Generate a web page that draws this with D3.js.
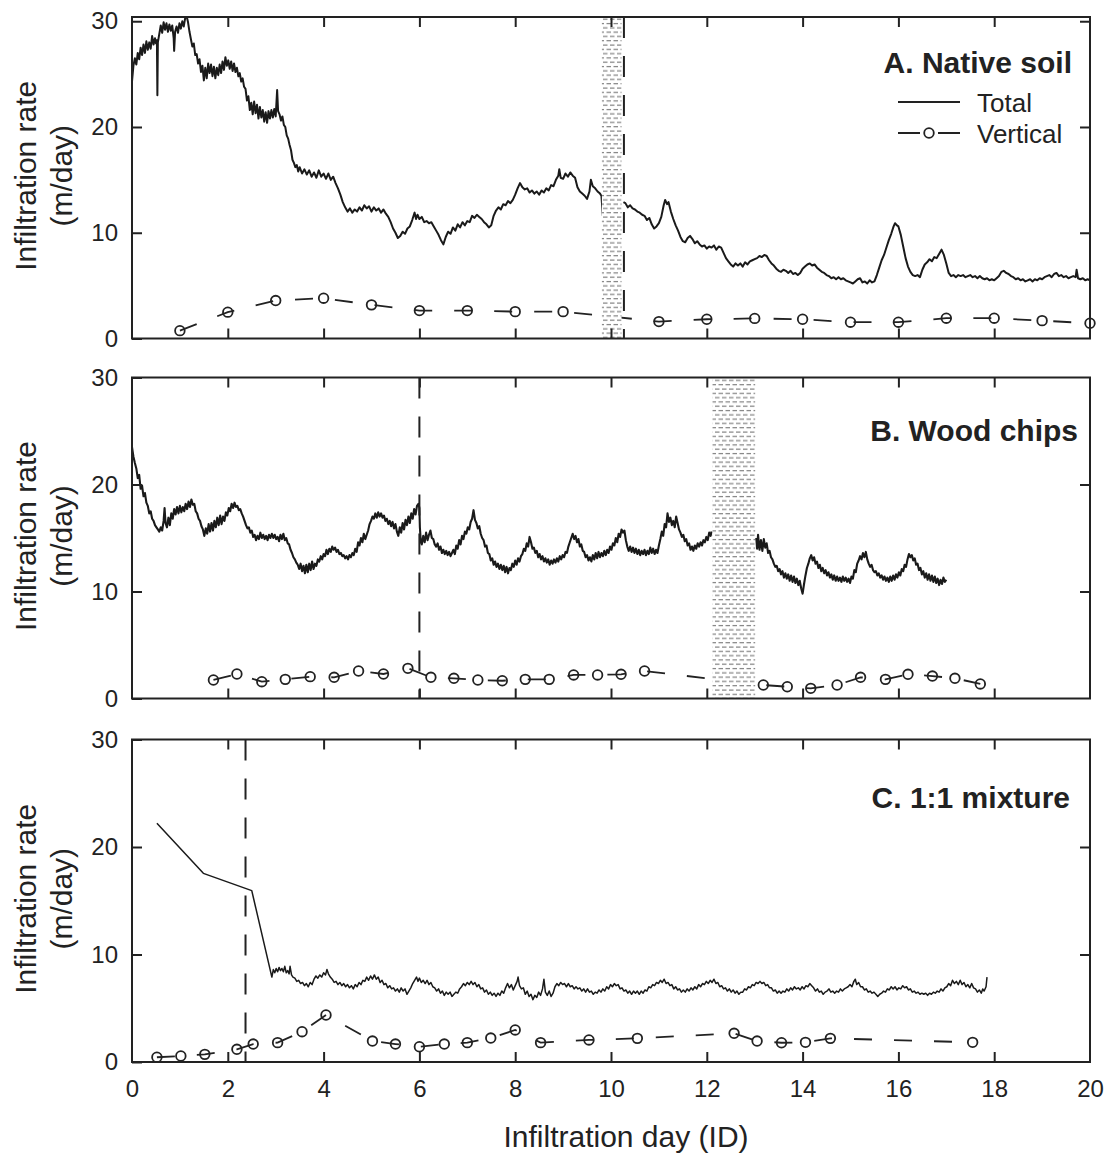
<!DOCTYPE html>
<html>
<head>
<meta charset="utf-8">
<script src="https://cdn.jsdelivr.net/npm/d3@7"></script>
<style>
  body { margin: 0; background: #fff; }
  svg { display: block; }
  text { font-family: "Liberation Sans", Arial, Helvetica, sans-serif; fill: #222; }
</style>
</head>
<body>
<div id="chart"></div>
<script>
// ── Data ─────────────────────────────────────────────────────────────────────

const xTicks = [0, 2, 4, 6, 8, 10, 12, 14, 16, 18, 20];
const yTicks = [0, 10, 20, 30];
const panelTitles = ["A. Native soil", "B. Wood chips", "C. 1:1 mixture"];
const shadedDays = [[9.81, 10.22], [12.12, 13.01], null];
const dashedDays = [10.27, 6.0, 2.37];
const legendLabels = ["Total", "Vertical"];

// Total infiltration rate, [day, m/day]; null = gap in record
const totalA = [[0,24.3],[0.03,25.8],[0.06,26.5],[0.09,25.9],[0.12,27.0],[0.15,26.4],[0.18,27.5],[0.21,26.8],[0.24,27.8],[0.27,27.0],[0.3,28.1],[0.33,27.3],[0.36,28.0],[0.39,27.4],[0.42,28.6],[0.45,27.8],[0.48,28.4],[0.5,27.9],[0.52,28.2],[0.53,23.0],[0.54,28.0],[0.57,28.8],[0.6,29.6],[0.63,28.9],[0.66,29.9],[0.69,29.2],[0.72,29.8],[0.75,29.0],[0.78,29.7],[0.81,29.1],[0.84,29.6],[0.87,28.4],[0.88,27.2],[0.9,29.0],[0.93,29.5],[0.96,28.9],[0.99,29.8],[1.02,29.3],[1.05,30.0],[1.08,29.5],[1.11,30.3],[1.14,30.5],[1.17,29.9],[1.2,29.0],[1.23,28.3],[1.26,27.6],[1.29,27.9],[1.32,26.8],[1.35,26.9],[1.38,26.0],[1.41,26.4],[1.44,25.2],[1.47,25.8],[1.5,24.4],[1.53,25.6],[1.56,24.6],[1.59,26.0],[1.62,25.1],[1.65,25.9],[1.68,24.8],[1.71,25.7],[1.74,24.6],[1.77,25.6],[1.8,24.9],[1.83,25.9],[1.86,25.1],[1.89,26.2],[1.92,25.4],[1.95,26.6],[1.98,25.8],[2.01,26.3],[2.04,25.5],[2.07,26.2],[2.1,25.3],[2.13,26.0],[2.16,25.2],[2.19,25.6],[2.22,24.8],[2.25,25.1],[2.28,24.3],[2.31,24.6],[2.34,23.8],[2.37,23.6],[2.4,22.5],[2.43,22.9],[2.46,21.6],[2.49,22.3],[2.52,21.2],[2.55,22.4],[2.58,21.3],[2.61,22.1],[2.64,20.8],[2.67,21.9],[2.7,20.9],[2.73,21.6],[2.76,20.5],[2.79,21.4],[2.82,20.4],[2.85,21.5],[2.88,20.8],[2.91,21.6],[2.94,20.9],[2.97,21.7],[3.0,21.0],[3.03,23.5],[3.05,21.5],[3.08,21.2],[3.11,20.6],[3.14,21.0],[3.17,20.2],[3.2,20.0],[3.23,19.2],[3.26,18.9],[3.29,18.3],[3.32,17.8],[3.35,16.9],[3.38,16.6],[3.41,16.2],[3.44,16.4],[3.47,15.8],[3.5,16.2],[3.55,15.6],[3.6,16.0],[3.65,15.5],[3.7,15.9],[3.75,15.3],[3.8,15.7],[3.85,15.2],[3.9,15.9],[3.95,15.3],[4.0,15.6],[4.05,15.1],[4.1,15.6],[4.15,15.0],[4.2,15.3],[4.25,14.7],[4.3,14.2],[4.35,13.6],[4.4,12.9],[4.45,12.4],[4.5,12.0],[4.55,12.3],[4.6,11.9],[4.65,12.2],[4.7,12.0],[4.75,12.4],[4.8,12.1],[4.85,12.6],[4.9,12.3],[4.95,12.5],[5.0,12.0],[5.05,12.4],[5.1,12.1],[5.15,12.3],[5.2,11.9],[5.25,12.2],[5.3,11.8],[5.35,11.5],[5.4,11.0],[5.45,10.4],[5.5,10.0],[5.55,9.5],[5.6,9.7],[5.65,10.1],[5.7,9.9],[5.75,10.4],[5.8,10.6],[5.85,11.2],[5.9,11.9],[5.93,11.3],[5.96,11.7],[6.0,11.3],[6.05,11.5],[6.1,11.0],[6.15,11.1],[6.2,10.9],[6.25,11.0],[6.3,10.6],[6.35,10.2],[6.4,9.8],[6.45,9.3],[6.5,8.9],[6.55,9.6],[6.6,10.1],[6.65,9.9],[6.7,10.5],[6.75,10.2],[6.8,10.8],[6.85,10.5],[6.9,11.0],[6.95,10.7],[7.0,11.1],[7.05,11.0],[7.1,11.6],[7.15,11.4],[7.2,11.7],[7.25,11.5],[7.3,11.3],[7.35,11.0],[7.4,10.8],[7.45,10.5],[7.5,10.7],[7.55,11.6],[7.6,12.1],[7.65,12.4],[7.7,12.2],[7.75,12.7],[7.8,12.6],[7.85,13.0],[7.9,12.8],[7.95,13.1],[8.0,13.6],[8.05,14.2],[8.1,14.7],[8.15,14.3],[8.2,14.1],[8.25,14.2],[8.3,13.8],[8.35,14.0],[8.4,13.7],[8.45,13.9],[8.5,13.6],[8.55,14.0],[8.6,13.8],[8.65,14.2],[8.7,14.0],[8.75,14.5],[8.8,14.4],[8.85,15.0],[8.9,15.4],[8.92,16.0],[8.95,15.2],[9.0,15.1],[9.05,15.6],[9.1,15.3],[9.15,15.7],[9.2,15.4],[9.25,15.2],[9.3,14.3],[9.35,13.9],[9.4,13.7],[9.45,13.5],[9.5,13.2],[9.55,13.9],[9.58,15.0],[9.62,14.4],[9.67,14.2],[9.72,13.9],[9.77,13.7],[9.8,13.5],[9.83,11.6],null,
  [10.26,12.9],[10.3,12.8],[10.35,12.4],[10.4,12.6],[10.45,12.3],[10.5,12.2],[10.55,12.0],[10.6,11.9],[10.65,11.7],[10.7,11.6],[10.75,11.2],[10.8,11.4],[10.85,10.8],[10.9,10.4],[10.95,10.6],[11.0,10.9],[11.05,11.5],[11.1,12.6],[11.13,13.1],[11.17,12.7],[11.2,12.9],[11.25,12.0],[11.3,11.3],[11.35,10.7],[11.4,10.2],[11.45,9.6],[11.5,9.2],[11.55,9.1],[11.6,9.5],[11.65,9.7],[11.7,9.4],[11.75,9.0],[11.8,9.2],[11.85,8.9],[11.9,8.7],[11.95,8.8],[12.0,8.5],[12.05,8.7],[12.1,8.6],[12.15,8.8],[12.2,8.4],[12.25,8.7],[12.3,8.6],[12.35,8.1],[12.4,7.6],[12.45,7.3],[12.5,7.0],[12.55,6.8],[12.6,7.1],[12.65,6.9],[12.7,7.1],[12.75,6.8],[12.8,7.2],[12.85,7.0],[12.9,7.3],[12.95,7.4],[13.0,7.5],[13.05,7.6],[13.1,7.8],[13.15,7.7],[13.2,7.9],[13.25,7.8],[13.3,7.4],[13.35,7.1],[13.4,6.9],[13.45,6.6],[13.5,6.4],[13.55,6.3],[13.6,6.5],[13.65,6.4],[13.7,6.2],[13.75,6.4],[13.8,6.1],[13.85,6.2],[13.9,6.0],[13.95,6.2],[14.0,6.6],[14.05,6.8],[14.1,7.0],[14.15,7.1],[14.2,6.9],[14.25,7.0],[14.3,6.7],[14.35,6.5],[14.4,6.3],[14.45,6.2],[14.5,6.0],[14.55,5.9],[14.6,5.7],[14.65,5.8],[14.7,5.6],[14.75,5.8],[14.8,5.6],[14.85,5.7],[14.9,5.5],[14.95,5.4],[15.0,5.3],[15.05,5.2],[15.1,5.4],[15.15,5.6],[15.2,5.7],[15.25,5.3],[15.3,5.4],[15.35,5.2],[15.4,5.5],[15.45,5.3],[15.5,5.4],[15.55,6.0],[15.6,6.7],[15.65,7.4],[15.7,7.9],[15.75,8.6],[15.8,9.3],[15.85,9.9],[15.9,10.6],[15.93,10.9],[15.97,10.7],[16.0,10.6],[16.05,9.8],[16.1,8.7],[16.15,7.6],[16.2,6.8],[16.25,6.3],[16.3,6.0],[16.35,5.9],[16.4,6.0],[16.45,5.8],[16.5,6.5],[16.55,7.0],[16.6,7.2],[16.65,7.5],[16.7,7.3],[16.75,7.7],[16.8,7.6],[16.85,8.0],[16.9,8.4],[16.95,7.9],[17.0,7.1],[17.05,6.2],[17.1,5.9],[17.15,6.0],[17.2,5.8],[17.25,6.0],[17.3,5.9],[17.35,6.0],[17.4,5.8],[17.45,5.9],[17.5,6.0],[17.55,5.8],[17.6,5.9],[17.65,5.7],[17.7,5.9],[17.75,5.7],[17.8,5.6],[17.85,5.7],[17.9,5.5],[17.95,5.6],[18.0,5.5],[18.05,5.7],[18.1,5.9],[18.15,6.3],[18.2,6.4],[18.25,6.2],[18.3,6.1],[18.35,5.9],[18.4,5.8],[18.45,5.6],[18.5,5.7],[18.55,5.5],[18.6,5.6],[18.65,5.4],[18.7,5.5],[18.75,5.6],[18.8,5.4],[18.85,5.6],[18.9,5.5],[18.95,5.7],[19.0,5.6],[19.05,5.8],[19.1,5.9],[19.15,6.0],[19.2,5.8],[19.25,6.1],[19.3,6.2],[19.35,5.9],[19.4,6.0],[19.45,5.8],[19.5,5.9],[19.55,5.7],[19.6,5.8],[19.65,5.9],[19.7,5.8],[19.72,6.5],[19.75,5.7],[19.8,5.6],[19.85,5.7],[19.9,5.5],[19.95,5.6],[20.0,5.5]];

const totalB = [[0,23.5],[0.03,22.6],[0.06,22.0],[0.09,21.5],[0.12,20.6],[0.15,20.9],[0.18,19.6],[0.21,19.9],[0.24,18.9],[0.27,19.2],[0.3,18.3],[0.33,18.0],[0.36,17.3],[0.39,17.5],[0.42,16.8],[0.45,16.6],[0.48,16.2],[0.51,16.0],[0.54,15.8],[0.57,15.6],[0.6,16.0],[0.63,15.7],[0.66,16.6],[0.68,17.8],[0.7,16.4],[0.73,16.0],[0.76,16.9],[0.79,16.2],[0.82,17.3],[0.85,16.8],[0.88,17.7],[0.91,17.2],[0.94,17.9],[0.97,17.3],[1.0,18.0],[1.03,17.4],[1.06,17.9],[1.09,17.5],[1.12,18.2],[1.15,17.7],[1.18,18.4],[1.21,17.9],[1.24,18.6],[1.27,18.1],[1.3,18.2],[1.33,17.5],[1.36,17.3],[1.39,16.8],[1.42,16.6],[1.45,16.1],[1.48,15.8],[1.51,15.2],[1.54,15.9],[1.57,15.4],[1.6,16.3],[1.63,15.6],[1.66,16.4],[1.69,15.7],[1.72,16.6],[1.75,16.0],[1.78,16.9],[1.81,16.2],[1.84,17.1],[1.87,16.3],[1.9,17.0],[1.93,16.6],[1.96,17.4],[1.99,17.1],[2.02,17.8],[2.05,17.5],[2.08,18.2],[2.11,17.8],[2.14,18.3],[2.17,17.9],[2.2,18.0],[2.23,17.6],[2.26,17.7],[2.29,17.3],[2.32,17.0],[2.35,16.6],[2.38,16.2],[2.41,15.9],[2.44,16.0],[2.47,15.5],[2.5,15.7],[2.53,15.1],[2.56,15.3],[2.59,14.8],[2.62,15.2],[2.65,14.9],[2.68,15.5],[2.71,15.0],[2.74,15.3],[2.77,14.9],[2.8,15.2],[2.83,14.8],[2.86,15.3],[2.89,15.0],[2.92,15.4],[2.95,15.0],[2.98,15.3],[3.01,14.9],[3.04,15.1],[3.07,14.7],[3.1,15.3],[3.13,14.9],[3.16,15.4],[3.19,14.8],[3.22,15.0],[3.25,14.5],[3.28,14.4],[3.31,13.9],[3.34,13.6],[3.37,13.2],[3.4,13.0],[3.43,12.7],[3.46,12.5],[3.49,12.1],[3.52,12.6],[3.55,11.9],[3.58,12.4],[3.61,11.7],[3.64,12.5],[3.67,11.8],[3.7,12.6],[3.73,12.0],[3.76,12.8],[3.79,12.1],[3.82,12.6],[3.85,12.4],[3.88,13.0],[3.91,12.8],[3.94,13.3],[3.97,13.0],[4.0,13.5],[4.03,13.3],[4.06,13.9],[4.09,13.5],[4.12,14.0],[4.15,13.7],[4.18,14.2],[4.21,13.9],[4.24,14.1],[4.27,13.7],[4.3,13.9],[4.33,13.5],[4.36,13.6],[4.39,13.3],[4.42,13.4],[4.45,13.1],[4.48,13.3],[4.51,13.0],[4.54,13.4],[4.57,13.2],[4.6,13.6],[4.63,13.4],[4.66,14.0],[4.69,13.7],[4.72,14.6],[4.75,14.3],[4.78,15.0],[4.81,14.6],[4.84,15.4],[4.87,14.9],[4.9,15.3],[4.93,15.7],[4.96,16.3],[4.99,16.6],[5.02,17.0],[5.05,16.8],[5.08,17.3],[5.11,16.9],[5.14,17.4],[5.17,17.0],[5.2,17.3],[5.23,16.9],[5.26,17.1],[5.29,16.6],[5.32,16.8],[5.35,16.3],[5.38,16.6],[5.41,16.1],[5.44,16.5],[5.47,15.9],[5.5,16.3],[5.53,15.6],[5.56,15.2],[5.59,16.0],[5.62,15.5],[5.65,16.4],[5.68,15.8],[5.71,16.7],[5.74,16.2],[5.77,17.0],[5.8,16.4],[5.83,17.3],[5.86,16.8],[5.89,17.7],[5.92,17.2],[5.95,18.0],[5.98,18.2],[6.0,17.8],[6.01,16.0],[6.03,14.6],[6.05,14.4],[6.08,15.2],[6.11,14.6],[6.14,15.5],[6.17,14.8],[6.2,15.3],[6.23,15.7],[6.26,15.0],[6.29,14.9],[6.32,14.4],[6.35,14.2],[6.38,14.5],[6.41,13.9],[6.44,14.2],[6.47,13.6],[6.5,13.9],[6.53,13.5],[6.56,13.8],[6.59,13.4],[6.62,13.7],[6.65,13.3],[6.68,13.6],[6.71,13.9],[6.74,13.5],[6.77,14.3],[6.8,14.0],[6.83,14.8],[6.86,14.4],[6.89,15.2],[6.92,14.9],[6.95,15.6],[6.98,15.4],[7.01,16.0],[7.04,15.8],[7.07,16.5],[7.1,16.8],[7.13,17.6],[7.16,16.7],[7.19,16.4],[7.22,15.9],[7.25,16.1],[7.28,15.4],[7.31,15.0],[7.34,14.8],[7.37,14.2],[7.4,14.3],[7.43,13.6],[7.46,13.5],[7.49,12.9],[7.52,13.1],[7.55,12.5],[7.58,12.8],[7.61,12.3],[7.64,12.6],[7.67,12.1],[7.7,12.5],[7.73,12.0],[7.76,12.4],[7.79,11.8],[7.82,12.3],[7.85,11.7],[7.88,12.2],[7.91,12.0],[7.94,12.6],[7.97,12.3],[8.0,12.9],[8.03,12.5],[8.06,13.1],[8.09,12.8],[8.12,13.3],[8.15,13.5],[8.18,14.0],[8.21,13.8],[8.24,14.5],[8.27,14.2],[8.3,15.1],[8.33,14.6],[8.36,14.0],[8.39,14.1],[8.42,13.6],[8.45,13.8],[8.48,13.2],[8.51,13.5],[8.54,13.0],[8.57,13.3],[8.6,12.8],[8.63,13.1],[8.66,12.7],[8.69,13.0],[8.72,12.5],[8.75,12.9],[8.78,12.6],[8.81,13.0],[8.84,12.7],[8.87,13.1],[8.9,12.8],[8.93,13.3],[8.96,13.0],[8.99,13.4],[9.02,13.2],[9.05,13.7],[9.08,13.6],[9.11,14.2],[9.14,14.6],[9.17,15.0],[9.2,15.4],[9.23,14.9],[9.26,15.2],[9.29,14.6],[9.32,14.9],[9.35,14.2],[9.38,14.4],[9.41,13.8],[9.44,13.7],[9.47,13.2],[9.5,13.4],[9.53,12.9],[9.56,13.2],[9.59,12.8],[9.62,13.4],[9.65,13.0],[9.68,13.6],[9.71,13.1],[9.74,13.7],[9.77,13.2],[9.8,13.6],[9.83,13.3],[9.86,13.8],[9.89,13.4],[9.92,13.9],[9.95,13.6],[9.98,14.2],[10.01,13.9],[10.04,14.5],[10.07,14.3],[10.1,15.0],[10.13,14.6],[10.16,15.4],[10.19,15.1],[10.22,15.8],[10.25,15.5],[10.28,15.7],[10.31,14.8],[10.34,14.2],[10.37,13.8],[10.4,14.2],[10.43,13.7],[10.46,14.1],[10.49,13.6],[10.52,14.0],[10.55,13.5],[10.58,13.9],[10.61,13.4],[10.64,13.8],[10.67,13.5],[10.7,13.9],[10.73,13.4],[10.76,13.8],[10.79,13.5],[10.82,14.1],[10.85,13.6],[10.88,14.0],[10.91,13.5],[10.94,13.9],[10.97,13.6],[11.0,14.3],[11.03,14.9],[11.06,15.6],[11.09,15.2],[11.12,16.3],[11.15,16.0],[11.18,17.3],[11.21,16.5],[11.24,16.9],[11.27,16.2],[11.3,16.6],[11.33,16.0],[11.36,17.0],[11.39,16.4],[11.42,15.8],[11.45,15.5],[11.48,15.1],[11.51,15.3],[11.54,14.7],[11.57,14.9],[11.6,14.3],[11.63,14.5],[11.66,13.9],[11.69,14.2],[11.72,13.8],[11.75,14.3],[11.78,14.0],[11.81,14.5],[11.84,14.2],[11.87,14.6],[11.9,14.3],[11.93,14.8],[11.96,14.6],[11.99,15.1],[12.02,14.8],[12.05,15.5],[12.08,15.2],[12.1,15.6],null,
  [13.03,15.0],[13.05,14.0],[13.07,15.3],[13.1,13.9],[13.13,14.8],[13.16,13.8],[13.19,14.9],[13.22,14.1],[13.25,14.5],[13.28,13.6],[13.31,13.8],[13.34,13.2],[13.37,13.0],[13.4,12.6],[13.43,12.3],[13.46,12.4],[13.49,11.9],[13.52,12.1],[13.55,11.6],[13.58,11.9],[13.61,11.3],[13.64,11.7],[13.67,11.2],[13.7,11.6],[13.73,11.0],[13.76,11.5],[13.79,10.9],[13.82,11.4],[13.85,10.8],[13.88,11.2],[13.91,10.6],[13.94,11.0],[13.97,10.3],[14.0,9.8],[14.03,10.7],[14.06,11.5],[14.09,12.2],[14.12,12.6],[14.15,13.1],[14.18,13.4],[14.21,12.9],[14.24,13.2],[14.27,12.6],[14.3,12.8],[14.33,12.2],[14.36,12.5],[14.39,11.9],[14.42,12.2],[14.45,11.7],[14.48,12.0],[14.51,11.5],[14.54,11.8],[14.57,11.3],[14.6,11.6],[14.63,11.1],[14.66,11.5],[14.69,11.0],[14.72,11.4],[14.75,11.0],[14.78,11.3],[14.81,10.9],[14.84,11.4],[14.87,11.0],[14.9,11.3],[14.93,10.9],[14.96,11.2],[14.99,10.8],[15.02,11.4],[15.05,11.2],[15.08,12.0],[15.11,11.8],[15.14,12.6],[15.17,12.9],[15.2,13.3],[15.23,13.0],[15.26,13.6],[15.29,13.2],[15.32,13.7],[15.35,13.0],[15.38,12.6],[15.41,12.3],[15.44,12.5],[15.47,12.0],[15.5,11.8],[15.53,11.9],[15.56,11.5],[15.59,11.7],[15.62,11.3],[15.65,11.5],[15.68,11.1],[15.71,11.4],[15.74,11.0],[15.77,11.3],[15.8,10.9],[15.83,11.4],[15.86,11.0],[15.89,11.5],[15.92,11.1],[15.95,11.6],[15.98,11.3],[16.01,11.8],[16.04,11.5],[16.07,12.1],[16.1,11.9],[16.13,12.5],[16.16,12.3],[16.19,13.0],[16.22,13.5],[16.25,13.2],[16.28,13.4],[16.31,12.9],[16.34,13.1],[16.37,12.5],[16.4,12.6],[16.43,12.0],[16.46,12.2],[16.49,11.6],[16.52,11.9],[16.55,11.3],[16.58,11.7],[16.61,11.1],[16.64,11.6],[16.67,11.0],[16.7,11.5],[16.73,10.9],[16.76,11.4],[16.79,10.8],[16.82,11.2],[16.85,10.6],[16.88,11.1],[16.91,10.7],[16.94,11.3],[16.97,10.9],[17.0,11.1]];

const totalC = [[0.52,22.2],[1.49,17.55],[2.5,15.94],[2.92,7.9],[2.95,8.6],[2.98,8.3],[3.01,8.7],[3.04,8.4],[3.07,8.8],[3.1,8.5],[3.13,8.7],[3.16,8.4],[3.19,8.9],[3.22,8.3],[3.25,8.5],[3.28,8.2],[3.3,8.9],[3.33,8.1],[3.36,7.9],[3.4,7.8],[3.44,7.5],[3.48,7.6],[3.52,7.3],[3.56,7.4],[3.6,7.1],[3.64,7.3],[3.68,7.0],[3.72,7.4],[3.76,7.2],[3.8,7.7],[3.84,8.0],[3.88,7.8],[3.92,8.1],[3.96,7.9],[4.0,8.3],[4.04,8.1],[4.07,8.6],[4.1,8.2],[4.14,7.9],[4.18,7.7],[4.22,7.4],[4.26,7.5],[4.3,7.2],[4.34,7.4],[4.38,7.1],[4.42,7.3],[4.46,7.0],[4.5,7.2],[4.54,6.9],[4.58,7.1],[4.62,6.8],[4.66,7.2],[4.7,7.0],[4.74,7.4],[4.78,7.2],[4.82,7.6],[4.86,7.5],[4.9,7.9],[4.94,7.6],[4.98,8.0],[5.02,7.7],[5.06,8.1],[5.1,7.7],[5.14,7.9],[5.18,7.4],[5.22,7.6],[5.26,7.2],[5.3,7.3],[5.34,6.9],[5.38,7.1],[5.42,6.8],[5.46,6.9],[5.5,6.6],[5.54,6.8],[5.58,6.5],[5.62,6.9],[5.66,6.6],[5.7,6.8],[5.74,6.3],[5.78,6.6],[5.82,6.9],[5.86,7.3],[5.9,7.6],[5.94,7.9],[5.97,7.5],[6.0,7.8],[6.04,7.4],[6.08,7.6],[6.12,7.3],[6.16,7.6],[6.2,7.2],[6.24,7.4],[6.28,7.0],[6.32,6.9],[6.36,6.6],[6.4,6.8],[6.44,6.4],[6.48,6.6],[6.52,6.2],[6.56,6.5],[6.6,6.3],[6.64,6.5],[6.68,6.1],[6.72,6.3],[6.76,6.5],[6.8,6.4],[6.84,6.8],[6.88,7.0],[6.92,7.3],[6.96,7.1],[7.0,7.4],[7.04,7.2],[7.08,7.5],[7.12,7.2],[7.16,7.4],[7.2,7.0],[7.24,7.2],[7.28,6.8],[7.32,6.9],[7.36,6.5],[7.4,6.7],[7.44,6.3],[7.48,6.5],[7.52,6.2],[7.56,6.4],[7.6,6.1],[7.64,6.4],[7.68,6.2],[7.72,6.6],[7.76,6.4],[7.8,6.9],[7.84,7.3],[7.88,6.9],[7.92,7.2],[7.96,6.7],[8.0,7.1],[8.04,7.5],[8.06,7.9],[8.09,7.1],[8.13,6.8],[8.17,6.9],[8.21,6.3],[8.25,6.6],[8.29,6.1],[8.33,6.3],[8.37,5.8],[8.41,6.2],[8.45,6.0],[8.49,6.5],[8.53,6.2],[8.57,6.8],[8.6,7.7],[8.63,6.5],[8.67,6.2],[8.71,6.6],[8.75,6.1],[8.79,6.4],[8.83,7.0],[8.87,7.3],[8.91,7.1],[8.95,7.4],[8.99,7.2],[9.03,7.3],[9.07,7.0],[9.11,7.3],[9.15,7.0],[9.19,7.1],[9.23,6.8],[9.27,7.0],[9.31,6.8],[9.35,6.9],[9.39,6.6],[9.43,6.8],[9.47,6.5],[9.51,6.8],[9.55,6.5],[9.59,6.6],[9.63,6.3],[9.67,6.5],[9.71,6.4],[9.75,6.7],[9.79,6.5],[9.83,6.8],[9.87,6.6],[9.91,7.0],[9.95,6.8],[9.99,7.2],[10.03,7.0],[10.07,7.3],[10.11,7.1],[10.15,7.2],[10.19,6.8],[10.23,6.9],[10.27,6.6],[10.31,6.7],[10.35,6.4],[10.39,6.6],[10.43,6.3],[10.47,6.6],[10.51,6.4],[10.55,6.6],[10.59,6.3],[10.63,6.6],[10.67,6.4],[10.71,6.7],[10.75,6.6],[10.79,7.0],[10.83,6.9],[10.87,7.2],[10.91,7.1],[10.95,7.4],[10.99,7.3],[11.03,7.6],[11.07,7.4],[11.11,7.7],[11.15,7.3],[11.19,7.4],[11.23,7.1],[11.27,7.2],[11.31,6.8],[11.35,7.0],[11.39,6.7],[11.43,6.8],[11.47,6.5],[11.51,6.7],[11.55,6.5],[11.59,6.8],[11.63,6.6],[11.67,6.9],[11.71,6.7],[11.75,7.0],[11.79,6.8],[11.83,7.2],[11.87,7.0],[11.91,7.3],[11.95,7.2],[11.99,7.5],[12.03,7.3],[12.07,7.6],[12.11,7.4],[12.15,7.7],[12.19,7.3],[12.23,7.4],[12.27,7.0],[12.31,7.1],[12.35,6.8],[12.39,6.9],[12.43,6.6],[12.47,6.8],[12.51,6.5],[12.55,6.7],[12.59,6.4],[12.63,6.6],[12.67,6.3],[12.71,6.5],[12.75,6.5],[12.79,6.8],[12.83,6.7],[12.87,7.0],[12.91,6.9],[12.95,7.2],[12.99,7.1],[13.03,7.4],[13.07,7.3],[13.11,7.5],[13.15,7.3],[13.19,7.4],[13.23,7.1],[13.27,7.2],[13.31,6.9],[13.35,6.9],[13.39,6.6],[13.43,6.7],[13.47,6.4],[13.51,6.6],[13.55,6.4],[13.59,6.6],[13.63,6.5],[13.67,6.8],[13.71,6.6],[13.75,6.9],[13.79,6.7],[13.83,7.0],[13.87,6.8],[13.91,6.9],[13.95,6.7],[13.99,7.0],[14.03,6.8],[14.07,7.1],[14.11,7.0],[14.15,7.3],[14.19,7.1],[14.23,6.9],[14.27,6.6],[14.31,6.8],[14.35,6.5],[14.39,6.6],[14.43,6.3],[14.47,6.5],[14.51,6.6],[14.55,6.8],[14.59,6.5],[14.63,6.6],[14.67,6.4],[14.71,6.6],[14.75,6.5],[14.79,6.8],[14.83,6.6],[14.87,6.8],[14.91,6.9],[14.95,7.0],[14.99,7.2],[15.03,7.0],[15.07,7.5],[15.1,7.7],[15.13,7.2],[15.17,7.4],[15.21,7.0],[15.25,7.0],[15.29,6.7],[15.33,6.8],[15.37,6.5],[15.41,6.6],[15.45,6.4],[15.49,6.5],[15.53,6.3],[15.57,6.1],[15.61,6.3],[15.65,6.4],[15.69,6.6],[15.73,6.5],[15.77,6.8],[15.81,6.7],[15.85,7.0],[15.89,6.8],[15.93,7.0],[15.97,6.7],[16.01,6.9],[16.05,6.8],[16.09,7.1],[16.13,6.9],[16.17,7.0],[16.21,6.7],[16.25,6.8],[16.29,6.5],[16.33,6.6],[16.37,6.4],[16.41,6.5],[16.45,6.3],[16.49,6.4],[16.53,6.3],[16.57,6.4],[16.61,6.2],[16.65,6.4],[16.69,6.3],[16.73,6.5],[16.77,6.4],[16.81,6.6],[16.85,6.5],[16.89,6.8],[16.93,6.6],[16.97,6.9],[17.01,7.0],[17.05,7.3],[17.09,7.1],[17.13,7.6],[17.17,7.3],[17.21,7.5],[17.25,7.2],[17.29,7.6],[17.33,7.2],[17.37,7.4],[17.41,7.0],[17.45,7.2],[17.49,6.9],[17.53,7.3],[17.57,6.9],[17.61,6.8],[17.65,6.5],[17.69,6.7],[17.73,6.4],[17.76,6.8],[17.79,6.6],[17.83,7.0],[17.85,7.9]];

// Vertical infiltration rate, [day, m/day]
const vertA = [[1,0.74],[2,2.49],[3,3.59],[4,3.81],[5,3.18],[6,2.64],[7,2.64],[8,2.54],[9,2.54],[11,1.6],[12,1.82],[13,1.9],[14,1.82],[15,1.54],[16,1.54],[17,1.92],[18,1.92],[19,1.69],[20,1.44]];
const vertB = [[1.7,1.73],[2.19,2.29],[2.71,1.57],[3.2,1.79],[3.72,2.04],[4.22,1.98],[4.73,2.57],[5.25,2.29],[5.76,2.82],[6.24,1.98],[6.72,1.89],[7.22,1.73],[7.73,1.66],[8.21,1.79],[8.71,1.79],[9.22,2.2],[9.72,2.2],[10.21,2.26],[10.7,2.57],[13.18,1.26],[13.68,1.1],[14.17,0.95],[14.72,1.26],[15.21,1.98],[15.73,1.79],[16.2,2.26],[16.71,2.1],[17.18,1.89],[17.71,1.36]];
const vertC = [[0.52,0.44],[1.02,0.56],[1.52,0.71],[2.19,1.18],[2.53,1.67],[3.04,1.8],[3.55,2.82],[4.05,4.37],[5.02,1.95],[5.5,1.67],[6.0,1.42],[6.52,1.67],[7.0,1.8],[7.49,2.23],[8.0,2.98],[8.53,1.8],[9.54,2.05],[10.55,2.2],[12.57,2.67],[13.05,1.95],[13.56,1.79],[14.06,1.83],[14.58,2.2],[17.55,1.83]];

// ── Layout ───────────────────────────────────────────────────────────────────

const W = 1112, H = 1156;
const left = 132, right = 1090;
const ink = "#222";

const panels = [
  { total: totalA, vert: vertA, top: 17, bottom: 338.5, ymax: 30.4, titleX: 1072, titleY: 73, lw: 2.0 },
  { total: totalB, vert: vertB, top: 377.5, bottom: 698.5, ymax: 30, titleX: 1078, titleY: 441, lw: 2.1 },
  { total: totalC, vert: vertC, top: 739.5, bottom: 1062, ymax: 30, titleX: 1070, titleY: 808, lw: 1.5 },
];

const svg = d3.select("#chart").append("svg").attr("width", W).attr("height", H);
const x = d3.scaleLinear().domain([0, 20]).range([left, right]);

// Hatch used for the shaded (no-data) intervals
const defs = svg.append("defs");
const pat = defs.append("pattern").attr("id", "hatch").attr("patternUnits", "userSpaceOnUse")
  .attr("width", 7).attr("height", 8.6);
pat.append("rect").attr("width", 7).attr("height", 8.6).attr("fill", "#fff");
pat.append("rect").attr("x", 1).attr("y", 1.5).attr("width", 4.5).attr("height", 1.1).attr("fill", "#777");
pat.append("rect").attr("x", 4.5).attr("y", 5.8).attr("width", 4.5).attr("height", 1.1).attr("fill", "#777");
pat.append("rect").attr("x", -2.5).attr("y", 5.8).attr("width", 4.5).attr("height", 1.1).attr("fill", "#777");

panels.forEach((p, i) => {
  const y = d3.scaleLinear().domain([0, p.ymax]).range([p.bottom, p.top]);
  const g = svg.append("g");

  defs.append("clipPath").attr("id", `clip${i}`)
    .append("rect").attr("x", left).attr("y", p.top).attr("width", right - left).attr("height", p.bottom - p.top);

  const plot = g.append("g").attr("clip-path", `url(#clip${i})`);

  // Total rate
  const line = d3.line().defined(d => d).x(d => x(d[0])).y(d => y(d[1]));
  plot.append("path").datum(p.total).attr("d", line)
    .attr("fill", "none").attr("stroke", "#1a1a1a").attr("stroke-width", p.lw).attr("stroke-linejoin", "round");

  // Vertical rate
  plot.append("path").datum(p.vert).attr("d", line)
    .attr("fill", "none").attr("stroke", ink).attr("stroke-width", 1.8).attr("stroke-dasharray", "18,22");
  g.append("g").selectAll("circle").data(p.vert).join("circle")
    .attr("cx", d => x(d[0])).attr("cy", d => y(d[1])).attr("r", 4.8)
    .attr("fill", "none").attr("stroke", ink).attr("stroke-width", 1.8);

  // Shaded interval
  if (shadedDays[i]) {
    const [a, b] = shadedDays[i];
    g.append("rect").attr("x", x(a)).attr("y", p.top).attr("width", x(b) - x(a)).attr("height", p.bottom - p.top)
      .attr("fill", "url(#hatch)");
  }

  // Dashed marker line
  g.append("line").attr("x1", x(dashedDays[i])).attr("x2", x(dashedDays[i]))
    .attr("y1", p.top).attr("y2", p.bottom)
    .attr("stroke", ink).attr("stroke-width", 2).attr("stroke-dasharray", "21,18");

  // Axes: inward ticks on all four sides
  const inner = xTicks.filter(t => t > 0 && t < 20);
  const styleAxis = sel => {
    sel.select(".domain").remove();
    sel.selectAll(".tick line").attr("stroke", ink).attr("stroke-width", 2);
    sel.selectAll(".tick text").attr("fill", ink).style("font-size", "24px");
  };
  g.append("g").attr("transform", `translate(${left},0)`)
    .call(d3.axisLeft(y).tickValues(yTicks).tickSize(-10).tickPadding(14))
    .call(styleAxis);
  g.append("g").attr("transform", `translate(${right},0)`)
    .call(d3.axisRight(y).tickValues(yTicks.filter(t => t > 0 && t < p.ymax)).tickSize(-10).tickFormat(""))
    .call(styleAxis);
  g.append("g").attr("transform", `translate(0,${p.top})`)
    .call(d3.axisTop(x).tickValues(inner).tickSize(-10).tickFormat(""))
    .call(styleAxis);
  const bottomAxis = d3.axisBottom(x).tickSize(-10).tickPadding(18);
  if (i === 2) bottomAxis.tickValues(xTicks).tickFormat(d3.format("d"));
  else bottomAxis.tickValues(inner).tickFormat("");
  const bx = g.append("g").attr("transform", `translate(0,${p.bottom})`).call(bottomAxis).call(styleAxis);
  bx.selectAll(".tick").filter(d => d === 0 || d === 20).select("line").remove();

  // Frame
  g.append("rect").attr("x", left).attr("y", p.top).attr("width", right - left).attr("height", p.bottom - p.top)
    .attr("fill", "none").attr("stroke", ink).attr("stroke-width", 2);

  // Y label
  const cy = (p.top + p.bottom) / 2 - 2;
  g.append("text").attr("transform", `translate(36,${cy}) rotate(-90)`)
    .attr("text-anchor", "middle").style("font-size", "30px").text("Infiltration rate");
  g.append("text").attr("transform", `translate(72,${cy}) rotate(-90)`)
    .attr("text-anchor", "middle").style("font-size", "30px").text("(m/day)");

  // Panel title
  g.append("text").attr("x", p.titleX).attr("y", p.titleY).attr("text-anchor", "end")
    .style("font-size", "30px").style("font-weight", "bold").text(panelTitles[i]);
});

// Legend (panel A)
const lg = svg.append("g");
lg.append("line").attr("x1", 898).attr("x2", 960).attr("y1", 102).attr("y2", 102)
  .attr("stroke", ink).attr("stroke-width", 1.8);
lg.append("line").attr("x1", 898).attr("x2", 960).attr("y1", 133).attr("y2", 133)
  .attr("stroke", ink).attr("stroke-width", 1.8).attr("stroke-dasharray", "22,18");
lg.append("circle").attr("cx", 929).attr("cy", 133).attr("r", 4.8)
  .attr("fill", "#fff").attr("stroke", ink).attr("stroke-width", 1.8);
lg.selectAll("text.leg").data(legendLabels).join("text").attr("class", "leg")
  .attr("x", 977).attr("y", (d, k) => 112 + k * 31).style("font-size", "26px").text(d => d);

// X label
svg.append("text").attr("x", 626).attr("y", 1147).attr("text-anchor", "middle")
  .style("font-size", "30px").text("Infiltration day (ID)");
</script>
</body>
</html>
